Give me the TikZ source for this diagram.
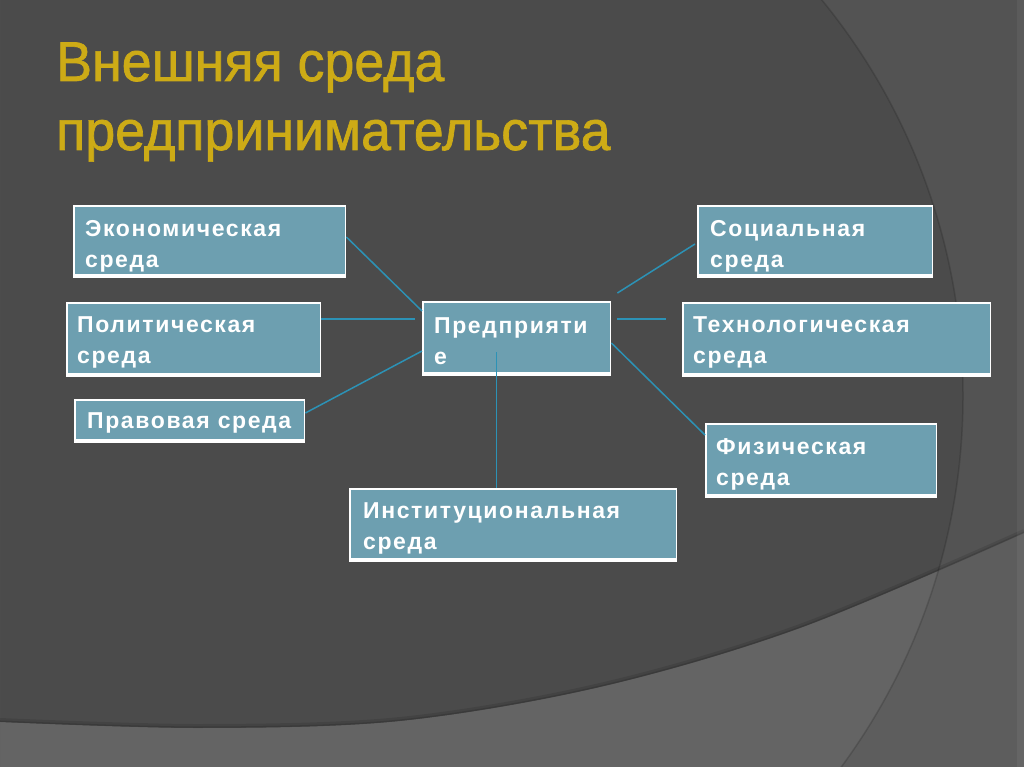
\documentclass[tikz,border=0pt]{standalone}
\usepackage{fontspec}
\usetikzlibrary{calc}
\newfontfamily\titlefont[FakeStretch=0.96, FakeBold=1.2]{Liberation Sans}
\newfontfamily\boxfont[LetterSpace=7]{Liberation Sans Bold}
\definecolor{bgdark}{HTML}{4B4B4B}
\definecolor{bgright}{HTML}{535353}
\definecolor{bgbottom}{HTML}{646464}
\definecolor{bgbotright}{HTML}{5D5D5D}
\definecolor{boxfill}{HTML}{6D9FB0}
\definecolor{linkcol}{HTML}{2C92B6}
\definecolor{titlecol}{HTML}{CDAB16}
\tikzset{
  envbox/.style={rectangle, draw=none, inner sep=0pt, anchor=north west, fill=white,
    path picture={\fill[boxfill] ([shift={(1.5,1.5)}]path picture bounding box.north west)
      rectangle ([shift={(-1.5,-4.5)}]path picture bounding box.south east);}},
  boxtext/.style={anchor=north west, inner sep=0pt, text=white,
    font=\boxfont\fontsize{23}{31}\selectfont, align=left},
  titletext/.style={anchor=base west, inner sep=0pt, text=titlecol,
    font=\titlefont\fontsize{56}{60}\selectfont},
  conn/.style={draw=linkcol, line width=1.5pt}
}
\begin{document}
\begin{tikzpicture}[x=1pt, y=-1pt]
\useasboundingbox (0,0) rectangle (1024,767);
% background
\fill[bgdark] (0,0) rectangle (1024,767);
\fill[bgright, even odd rule] (0,0) rectangle (1024,767) (337,396) circle[radius=626];
\fill[bgbottom] plot[smooth, tension=0.55] coordinates {(0,722) (200,728) (400,721) (600,687) (800,628) (1024,533)} -- (1024,767) -- (0,767) -- cycle;
\begin{scope}
  \clip plot[smooth, tension=0.55] coordinates {(0,722) (200,728) (400,721) (600,687) (800,628) (1024,533)} -- (1024,767) -- (0,767) -- cycle;
  \fill[bgbotright, even odd rule] (0,0) rectangle (1024,767) (337,396) circle[radius=626];
\end{scope}
\draw[black, opacity=0.10, line width=4pt] plot[smooth, tension=0.55] coordinates {(0,720) (200,726) (400,719) (600,685) (800,626) (1024,531)};
\draw[black, opacity=0.12, line width=1.5pt] plot[smooth, tension=0.55] coordinates {(0,721.2) (200,727.2) (400,720.2) (600,686.2) (800,627.2) (1024,532.2)};
\draw[black, opacity=0.15, line width=1.5pt] (337,396) circle[radius=626];
\fill[white, opacity=0.05] (1017,0) rectangle (1024,767);
% title
\node[titletext] (t1) at (56,81) {Внешняя среда};
\node[titletext] (t2) at (56,150) {предпринимательства};
% boxes
\node[envbox, minimum width=273pt, minimum height=73pt] (eco) at (73,205) {};
\node[envbox, minimum width=255pt, minimum height=75pt] (pol) at (66,302) {};
\node[envbox, minimum width=231pt, minimum height=44pt] (law) at (74,399) {};
\node[envbox, minimum width=189pt, minimum height=75pt] (ent) at (422,301) {};
\node[envbox, minimum width=236pt, minimum height=73pt] (soc) at (697,205) {};
\node[envbox, minimum width=309pt, minimum height=75pt] (tech) at (682,302) {};
\node[envbox, minimum width=232pt, minimum height=75pt] (phys) at (705,423) {};
\node[envbox, minimum width=328pt, minimum height=74pt] (inst) at (349,488) {};
% connectors
\draw[conn] ($(eco.north east)+(0,32)$) -- ($(ent.north west)+(0,10)$);
\draw[conn] ($(pol.north east)+(0,17)$) -- ($(ent.north west)+(-7,18)$);
\draw[conn] ($(law.north east)+(0,14)$) -- ($(ent.north west)+(0,50)$);
\draw[conn] ($(ent.north west)+(74.5,51)$) -- ($(inst.north west)+(147.5,0)$);
\draw[conn] ($(ent.north east)+(6,-8)$) -- ($(soc.north west)+(-2,39)$);
\draw[conn] ($(ent.north east)+(6,18)$) -- ($(tech.north west)+(-16,17)$);
\draw[conn] ($(ent.north east)+(0,42)$) -- ($(phys.north west)+(0,12)$);
% texts
\node[boxtext] (eco-t) at ($(eco.north west)+(12,14)$) {\rule{0pt}{17pt}Экономическая\\среда};
\node[boxtext] (pol-t) at ($(pol.north west)+(11,13)$) {\rule{0pt}{17pt}Политическая\\среда};
\node[boxtext] (law-t) at ($(law.north west)+(13,12)$) {\rule{0pt}{17pt}Правовая среда};
\node[boxtext] (ent-t) at ($(ent.north west)+(12,15)$) {\rule{0pt}{17pt}Предприяти\\е};
\node[boxtext] (soc-t) at ($(soc.north west)+(13,14)$) {\rule{0pt}{17pt}Социальная\\среда};
\node[boxtext] (tech-t) at ($(tech.north west)+(11,13)$) {\rule{0pt}{17pt}Технологическая\\среда};
\node[boxtext] (phys-t) at ($(phys.north west)+(11,14)$) {\rule{0pt}{17pt}Физическая\\среда};
\node[boxtext] (inst-t) at ($(inst.north west)+(14,13)$) {\rule{0pt}{17pt}Институциональная\\среда};
\end{tikzpicture}
\end{document}
